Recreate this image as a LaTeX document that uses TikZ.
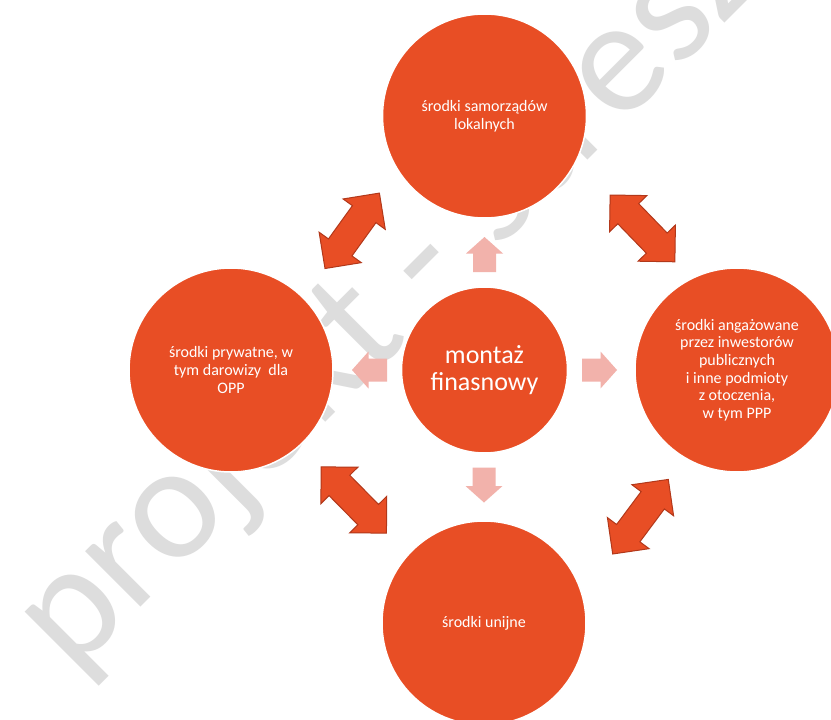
\documentclass[tikz,border=0pt]{standalone}
\usepackage{fontspec}
\setmainfont{Carlito}
\definecolor{orng}{RGB}{232,78,37}
\definecolor{orngdark}{RGB}{178,56,26}
\definecolor{pinkar}{RGB}{242,178,171}
\definecolor{wmgray}{RGB}{221,221,221}
\begin{document}
\begin{tikzpicture}[x=1pt,y=-1pt,
  bigc/.style={circle, fill=orng, draw=white, line width=1.5pt, minimum size=204pt, inner sep=0pt, text=white, align=center, font=\fontsize{16}{17.6}\selectfont},
  midc/.style={bigc, minimum size=166pt, font=\fontsize{26}{27}\selectfont},
  dblstyle/.style={fill=orng, draw=orngdark, line width=1pt, line join=miter},
  pinkstyle/.style={fill=pinkar},
  wmtext/.style={text=wmgray, inner sep=0pt, outer sep=0pt, font=\fontsize{164}{164}\selectfont},
  dbl/.pic={\path[dblstyle] (-46.5,0) -- (-20.5,26) -- (-20.5,14.5) -- (20.5,14.5) -- (20.5,26) -- (46.5,0) -- (20.5,-26) -- (20.5,-14.5) -- (-20.5,-14.5) -- (-20.5,-26) -- cycle;},
  pinkarr/.pic={\path[pinkstyle] (-17.5,-11.5) -- (1,-11.5) -- (1,-18.5) -- (17.5,0) -- (1,18.5) -- (1,11.5) -- (-17.5,11.5) -- cycle;}
]
\useasboundingbox (0,0) rectangle (831,720);
\clip (0,0) rectangle (831,720);
\fill[white] (0,0) rectangle (831,720);

% watermark
\node[wmtext, rotate=45, anchor=base west] (wm) at (72.8,675.4) {projekt - streszczenie};

% circles
\node[bigc] (top) at (484.5,116) {środki samorządów\\lokalnych};
\node[bigc] (left) at (231,370) {środki prywatne, w\\tym darowizy\ \ dla\\OPP};
\node[bigc] (right) at (737,370) {środki angażowane\\przez inwestorów\\publicznych\\i inne podmioty\\z otoczenia,\\w tym PPP};
\node[bigc] (bottom) at (484,623) {środki unijne};
\node[midc] (center) at (484.5,370) {montaż\\finasnowy};

% pink arrows from the centre
\pic[rotate=90] at (484.5,254.5) {pinkarr};
\pic[rotate=-90] at (484,485) {pinkarr};
\pic[rotate=180] at (369.5,370) {pinkarr};
\pic at (599.5,370) {pinkarr};

% double arrows between outer circles
\pic[rotate=54.2] at (352.2,230.8) {dbl};
\pic[rotate=-45.9] at (642.5,228.4) {dbl};
\pic[rotate=-45.4] at (353.8,500) {dbl};
\pic[rotate=53.3] at (640.5,516.7) {dbl};
\end{tikzpicture}
\end{document}
